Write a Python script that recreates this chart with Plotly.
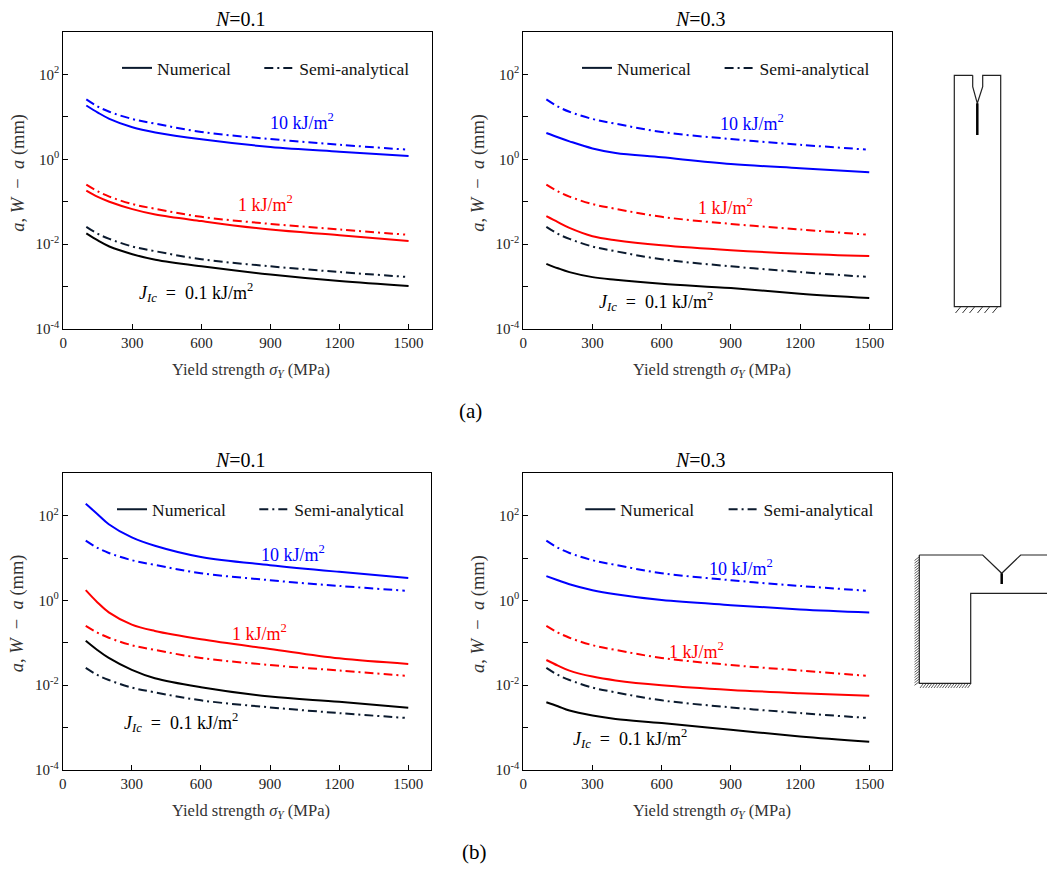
import numpy as np
import plotly.graph_objects as go

# ---- data ----
yield_strength = [100, 150, 200, 300, 400, 600, 900, 1200, 1500]
yield_strength_semi = [100, 150, 200, 300, 400, 600, 900, 1200, 1485]

# semi-analytical curves are the same in all four panels
semi_10 = [25.8, 17.5, 13.2, 8.9, 6.9, 4.4, 3.0, 2.2, 1.7]
semi_1 = [0.252, 0.175, 0.132, 0.088, 0.068, 0.044, 0.030, 0.0222, 0.0168]
semi_01 = [0.0256, 0.0175, 0.0133, 0.0088, 0.0068, 0.0044, 0.0030, 0.0022, 0.0017]

# (a) N=0.1
a1_num_10 = [18.5, 12.6, 9.0, 5.7, 4.3, 2.95, 1.95, 1.51, 1.2]
a1_num_1 = [0.183, 0.13, 0.1, 0.067, 0.05, 0.035, 0.022, 0.0163, 0.0118]
a1_num_01 = [0.0179, 0.0122, 0.0088, 0.0058, 0.0043, 0.0030, 0.00193, 0.00135, 0.00103]
# (a) N=0.3
a3_num_10 = [4.17, 3.3, 2.65, 1.8, 1.41, 1.11, 0.776, 0.614, 0.494]
a3_num_1 = [0.0456, 0.033, 0.0242, 0.0154, 0.0124, 0.00946, 0.00722, 0.00593, 0.00522]
a3_num_01 = [0.00344, 0.0027, 0.00219, 0.00167, 0.00145, 0.00117, 0.00092, 0.00068, 0.000536]
# (b) N=0.1
b1_num_10 = [190, 110, 63, 30.7, 19.5, 10.6, 6.8, 4.73, 3.41]
b1_num_1 = [1.75, 0.91, 0.525, 0.27, 0.191, 0.122, 0.072, 0.0432, 0.0318]
b1_num_01 = [0.112, 0.068, 0.044, 0.023, 0.0146, 0.009, 0.0054, 0.00405, 0.00293]
# (b) N=0.3
b3_num_10 = [3.74, 3.0, 2.42, 1.75, 1.4, 1.02, 0.776, 0.614, 0.522]
b3_num_1 = [0.0394, 0.029, 0.0221, 0.016, 0.013, 0.01, 0.00776, 0.00648, 0.00561]
b3_num_01 = [0.00398, 0.0032, 0.00253, 0.00193, 0.0016, 0.00128, 0.00089, 0.00062, 0.000464]

panel_n = ["0.1", "0.3", "0.1", "0.3"]
series_names = ["Numerical", "Semi-analytical"]
x_ticks = [0, 300, 600, 900, 1200, 1500]
y_ticks = [1e-4, 1e-3, 1e-2, 1e-1, 1, 10, 100]
y_ticktext = ["10<sup>-4</sup>", "", "10<sup>-2</sup>", "", "10<sup>0</sup>", "", "10<sup>2</sup>"]

W, H = 1055, 873
OFF = 8                      # page body margin
FW, FH = W - 2 * OFF, H - 2 * OFF
SERIF = "Liberation Serif"
BLUE, RED, BLACK, NAVY = "#0000ff", "#ff0000", "#000000", "#0b1a2e"
DASHDOT = "9px,4px,2px,4px"

panels = [
    # numerical series, x-domain px, y-domain px, legend line starts, label positions (x, log10 y)
    dict(num=[a1_num_10, a1_num_1, a1_num_01], xd=(63.3, 431.6), yd=(32, 329), lgx=(58.4, 200.7),
         lab=[(1035, 0.887), (878, -1.042), (576, -3.137)]),
    dict(num=[a3_num_10, a3_num_1, a3_num_01], xd=(523.3, 892.3), yd=(32, 329), lgx=(58.4, 201),
         lab=[(991, 0.864), (876, -1.113), (576, -3.348)]),
    dict(num=[b1_num_10, b1_num_1, b1_num_01], xd=(62.7, 431.3), yd=(473.3, 770), lgx=(54, 196.3),
         lab=[(1000, 1.113), (854, -0.746), (513, -2.885)]),
    dict(num=[b3_num_10, b3_num_1, b3_num_01], xd=(523.3, 892.3), yd=(473.3, 770), lgx=(61.7, 205),
         lab=[(943, 0.784), (752, -1.169), (463, -3.261)]),
]
semi = [semi_10, semi_1, semi_01]
colors_num = [BLUE, RED, BLACK]
colors_semi = [BLUE, RED, NAVY]
label_text = ["10 kJ/m<sup>2</sup>", "1 kJ/m<sup>2</sup>",
              "<i>J</i><sub><i>Ic</i></sub>\u2002=\u20020.1 kJ/m<sup>2</sup>"]


def px_x(p):
    return (p - OFF) / FW


def px_y(p):
    return 1 - (p - OFF) / FH


def note(x, y, text, size, color="black", **kw):
    return dict(x=px_x(x), y=px_y(y), xref="paper", yref="paper", text=text,
                showarrow=False, xanchor="center", yanchor="middle",
                font=dict(family=SERIF, size=size, color=color), **kw)


fig = go.Figure()
annotations = []
layout = {}

for i, pn in enumerate(panels):
    k = i + 1
    xa = "x" if k == 1 else f"x{k}"
    ya = "y" if k == 1 else f"y{k}"

    for j in range(3):
        fig.add_trace(go.Scatter(
            x=yield_strength, y=pn["num"][j], xaxis=xa, yaxis=ya,
            mode="lines", line=dict(color=colors_num[j], width=2, shape="spline", smoothing=1.0),
            showlegend=False, hoverinfo="skip"))
        fig.add_trace(go.Scatter(
            x=yield_strength_semi, y=semi[j], xaxis=xa, yaxis=ya,
            mode="lines", line=dict(color=colors_semi[j], width=2, dash=DASHDOT,
                                    shape="spline", smoothing=1.0),
            showlegend=False, hoverinfo="skip"))

    # legend entries, one small legend per entry so both can be placed exactly
    for s, name in enumerate(series_names):
        n = 2 * i + s + 1
        lg = "legend" if n == 1 else f"legend{n}"
        fig.add_trace(go.Scatter(x=[None], y=[None], xaxis=xa, yaxis=ya, mode="lines",
                                 name=name, legend=lg,
                                 line=dict(color=NAVY, width=2,
                                           dash="solid" if s == 0 else DASHDOT)))
        layout[lg] = dict(x=px_x(pn["xd"][0] + pn["lgx"][s] - 4.7),
                          y=px_y(pn["yd"][0] + 36),
                          xanchor="left", yanchor="middle", bgcolor="rgba(0,0,0,0)",
                          font=dict(family=SERIF, size=17.5, color="#111"))

    xd = [px_x(pn["xd"][0]), px_x(pn["xd"][1])]
    yd = [px_y(pn["yd"][1]), px_y(pn["yd"][0])]
    axis_common = dict(showline=True, linecolor="black", linewidth=1, mirror=True,
                       ticks="inside", ticklen=5, tickcolor="black", showgrid=False,
                       zeroline=False, automargin=False,
                       tickfont=dict(family=SERIF, size=15, color="#222"))
    layout["xaxis" if k == 1 else f"xaxis{k}"] = dict(
        domain=xd, range=[0, 1600], tickvals=x_ticks, anchor=ya, **axis_common)
    layout["yaxis" if k == 1 else f"yaxis{k}"] = dict(
        domain=yd, type="log", range=[-4, 3], tickvals=y_ticks, ticktext=y_ticktext,
        anchor=xa, **axis_common)

    # curve labels
    for j, (lx, ly) in enumerate(pn["lab"]):
        annotations.append(dict(x=lx, y=ly, xref=xa, yref=ya, text=label_text[j],
                                showarrow=False, xanchor="center", yanchor="middle",
                                font=dict(family=SERIF, size=18, color=colors_num[j])))

    cx = (pn["xd"][0] + pn["xd"][1]) / 2
    annotations.append(note(cx - 7, pn["yd"][0] - 13, f"<i>N</i>={panel_n[i]}", 20))
    annotations.append(note(cx + 4, pn["yd"][1] + 41,
                            "Yield strength <i>σ</i><sub><i>Y</i></sub> (MPa)", 16.5, "#333"))
    annotations.append(note(pn["xd"][0] - 45, (pn["yd"][0] + pn["yd"][1]) / 2 - 8,
                            "<i>a</i>, <i>W</i>\u2002−\u2002<i>a</i> (mm)", 18.5, "#333",
                            textangle=-90))

annotations.append(note(470, 411, "(a)", 21))
annotations.append(note(474, 852, "(b)", 21))

# ---- specimen sketches (pixel geometry) ----
shapes = []
ov = dict(xref="x5", yref="y5")
layout["xaxis5"] = dict(domain=[0, 1], range=[OFF, OFF + FW], visible=False,
                        fixedrange=True, anchor="y5")
layout["yaxis5"] = dict(domain=[0, 1], range=[OFF + FH, OFF], visible=False,
                        fixedrange=True, anchor="x5")
fig.add_trace(go.Scatter(x=[None], y=[None], xaxis="x5", yaxis="y5", showlegend=False))

# top: single-edge notched bar
bar_outline = [(972.7, 75.3), (954.3, 75.3), (954.3, 306.7), (1000.7, 306.7),
               (1000.7, 75.3), (982.7, 75.3), (982.7, 86.7), (977.3, 103.3),
               (972.7, 86.7), (972.7, 75.3)]
bar_crack = [(977.3, 103.3), (977.3, 135)]
bar_hatch_x = [958, 965, 972, 980, 987, 995]

# bottom: L-shaped specimen
l_outline = [(919.3, 555), (982.7, 555), (1001.7, 573.3), (1020.7, 555), (1047.7, 555),
             (1047.7, 593.3), (970.7, 593.3), (970.7, 683.3), (919.3, 683.3), (919.3, 555)]
l_crack = [(1001.7, 573.3), (1001.7, 584)]


def path_of(pts):
    return "M " + " L ".join(f"{x},{y}" for x, y in pts)


shapes.append(dict(type="path", path=path_of(bar_outline), line=dict(color="#222", width=1.2), **ov))
shapes.append(dict(type="path", path=path_of(bar_crack), line=dict(color="black", width=2.5), **ov))
for hx in bar_hatch_x:
    shapes.append(dict(type="line", x0=hx + 2.5, y0=307, x1=hx - 2.5, y1=313,
                       line=dict(color="#333", width=1), **ov))

shapes.append(dict(type="path", path=path_of(l_outline), line=dict(color="#222", width=1.2), **ov))
shapes.append(dict(type="path", path=path_of(l_crack), line=dict(color="black", width=2.5), **ov))
for hy in np.arange(557, 683, 2.6):
    shapes.append(dict(type="line", x0=919, y0=hy, x1=914.5, y1=hy + 3.5,
                       line=dict(color="#333", width=0.8), **ov))
for hx in np.arange(923, 971, 2.8):
    shapes.append(dict(type="line", x0=hx, y0=684, x1=hx - 3, y1=688,
                       line=dict(color="#333", width=0.8), **ov))

fig.update_layout(
    width=FW, height=FH, margin=dict(l=0, r=0, t=0, b=0),
    paper_bgcolor="white", plot_bgcolor="rgba(0,0,0,0)",
    annotations=annotations, shapes=shapes, **layout)

fig.write_html("out.html")
